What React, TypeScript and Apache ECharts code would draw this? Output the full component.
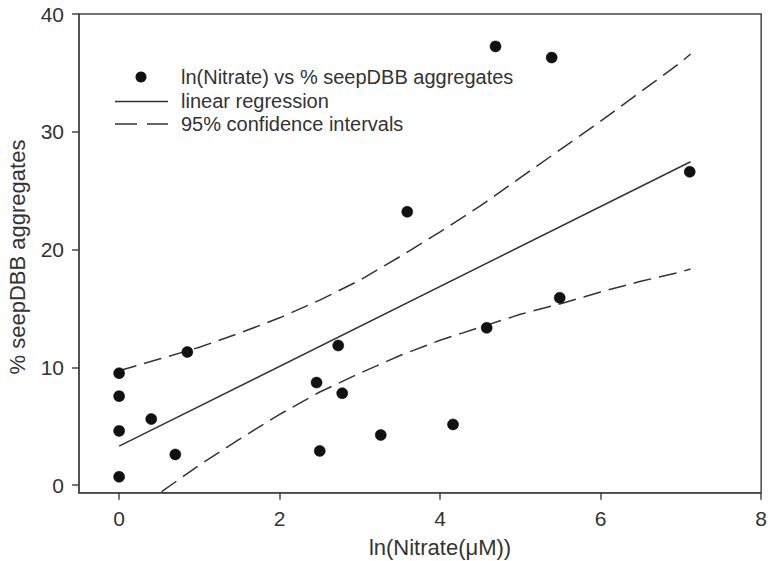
import React, { useEffect, useRef } from "react";
import * as echarts from "echarts";

// ---- data ----
const nitrateLn = [0, 0, 0, 0, 0.4, 0.7, 0.85, 2.46, 2.5, 2.73, 2.78, 3.26, 3.59, 4.16, 4.58, 4.69, 5.39, 5.49, 7.11];
const seepAggregates = [9.5, 7.55, 4.6, 0.7, 5.6, 2.6, 11.3, 8.7, 2.9, 11.85, 7.8, 4.25, 23.2, 5.15, 13.35, 37.25, 36.3, 15.9, 26.6];

const regressionX = [0, 7.12];
const regressionY = [3.3, 27.45];

const ciX = [0, 0.5, 1, 1.5, 2, 2.5, 3, 3.5, 4, 4.5, 5, 5.5, 6, 6.5, 7, 7.12];
const ciUpper = [9.7, 10.7, 11.7, 12.9, 14.2, 15.7, 17.4, 19.4, 21.5, 23.7, 26.1, 28.5, 30.9, 33.4, 35.9, 36.6];
const ciLower = [-3.1, -0.7, 1.7, 3.9, 6.0, 7.9, 9.5, 11.0, 12.3, 13.4, 14.5, 15.4, 16.4, 17.3, 18.1, 18.35];

const xTicks = [0, 2, 4, 6, 8];
const yTicks = [0, 10, 20, 30, 40];

const legendLabels = [
  "ln(Nitrate) vs % seepDBB aggregates",
  "linear regression",
  "95% confidence intervals",
];
const xTitle = "ln(Nitrate(\u03bcM))";
const yTitle = "% seepDBB aggregates";

const FONT = '"Liberation Sans", Arial, Helvetica, sans-serif';
const AXIS_COLOR = "#474747";
const TEXT_COLOR = "#333";
const LINE_COLOR = "#333";

export default function App() {
  const ref = useRef<HTMLDivElement>(null);

  useEffect(() => {
    if (!ref.current) return;
    const chart = echarts.init(ref.current, undefined, { renderer: "svg" });

    const pairs = (xs: number[], ys: number[]) => xs.map((x, i) => [x, ys[i]]);

    chart.setOption({
      animation: false,
      backgroundColor: "#fff",
      grid: {
        left: 79,
        right: 7.7,
        top: 14,
        bottom: 68.3,
        show: true,
        borderColor: AXIS_COLOR,
        borderWidth: 1.5,
        containLabel: false,
      },
      xAxis: {
        type: "value",
        min: -0.5,
        max: 8,
        splitLine: { show: false },
        axisLine: { show: true, onZero: false, lineStyle: { color: AXIS_COLOR, width: 1.5 } },
        axisTick: {
          show: true,
          inside: false,
          length: 7,
          customValues: xTicks,
          lineStyle: { color: AXIS_COLOR, width: 1.5 },
        },
        axisLabel: {
          customValues: xTicks,
          margin: 15,
          fontSize: 21,
          fontFamily: FONT,
          color: TEXT_COLOR,
        },
      },
      yAxis: {
        type: "value",
        min: -0.65,
        max: 40,
        splitLine: { show: false },
        axisLine: { show: true, onZero: false, lineStyle: { color: AXIS_COLOR, width: 1.5 } },
        axisTick: {
          show: true,
          inside: false,
          length: 7,
          customValues: yTicks,
          lineStyle: { color: AXIS_COLOR, width: 1.5 },
        },
        axisLabel: {
          customValues: yTicks,
          margin: 15,
          fontSize: 21,
          fontFamily: FONT,
          color: TEXT_COLOR,
        },
      },
      series: [
        {
          name: "95% CI upper",
          type: "line",
          data: pairs(ciX, ciUpper),
          symbol: "none",
          clip: true,
          lineStyle: { color: LINE_COLOR, width: 1.5, type: [18, 8] },
          z: 2,
        },
        {
          name: "95% CI lower",
          type: "line",
          data: pairs(ciX, ciLower),
          symbol: "none",
          clip: true,
          lineStyle: { color: LINE_COLOR, width: 1.5, type: [18, 8] },
          z: 2,
        },
        {
          name: "linear regression",
          type: "line",
          data: pairs(regressionX, regressionY),
          symbol: "none",
          clip: true,
          lineStyle: { color: LINE_COLOR, width: 1.5 },
          z: 2,
        },
        {
          name: "ln(Nitrate) vs % seepDBB aggregates",
          type: "scatter",
          data: pairs(nitrateLn, seepAggregates),
          symbol: "circle",
          symbolSize: 11,
          itemStyle: { color: "#111", opacity: 1, borderColor: "#000", borderWidth: 0.5 },
          z: 3,
        },
      ],
      graphic: [
        { type: "circle", shape: { cx: 141, cy: 77, r: 5.5 }, style: { fill: "#111" } },
        {
          type: "text",
          x: 181,
          y: 77,
          style: { text: legendLabels[0], fontSize: 20, fontFamily: FONT, fill: TEXT_COLOR, verticalAlign: "middle" },
        },
        {
          type: "line",
          shape: { x1: 115, y1: 101.5, x2: 168, y2: 101.5 },
          style: { stroke: LINE_COLOR, lineWidth: 1.5 },
        },
        {
          type: "text",
          x: 181,
          y: 101,
          style: { text: legendLabels[1], fontSize: 20, fontFamily: FONT, fill: TEXT_COLOR, verticalAlign: "middle" },
        },
        {
          type: "line",
          shape: { x1: 115, y1: 124, x2: 168, y2: 124 },
          style: { stroke: LINE_COLOR, lineWidth: 1.5, lineDash: [22, 10] },
        },
        {
          type: "text",
          x: 181,
          y: 124,
          style: { text: legendLabels[2], fontSize: 20, fontFamily: FONT, fill: TEXT_COLOR, verticalAlign: "middle" },
        },
        {
          type: "text",
          x: 440,
          y: 547,
          style: { text: xTitle, fontSize: 22, fontFamily: FONT, fill: TEXT_COLOR, align: "center", verticalAlign: "middle" },
        },
        {
          type: "text",
          x: 17,
          y: 257,
          rotation: Math.PI / 2,
          style: { text: yTitle, fontSize: 22, fontFamily: FONT, fill: TEXT_COLOR, align: "center", verticalAlign: "middle" },
        },
      ],
    });

    return () => chart.dispose();
  }, []);

  return (
    <div
      ref={ref}
      style={{ position: "fixed", left: 0, top: 0, width: 770, height: 561, background: "#fff" }}
    />
  );
}
